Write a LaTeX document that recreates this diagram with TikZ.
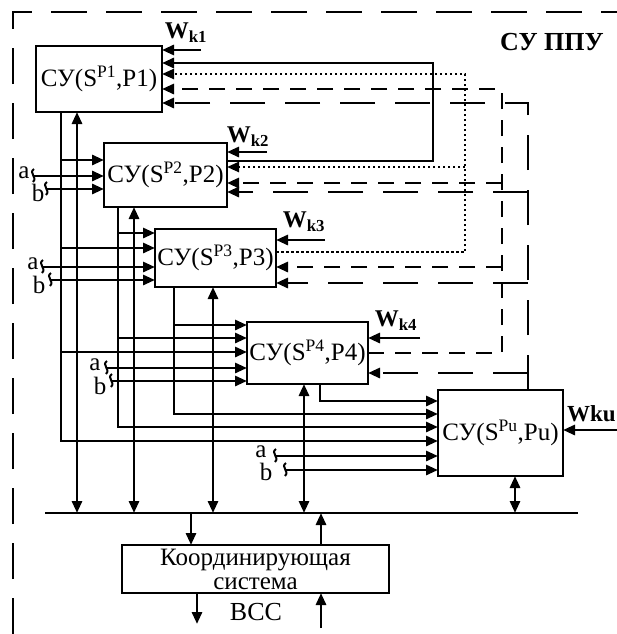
\documentclass[tikz,border=0pt]{standalone}
\usepackage{fontspec}
\setmainfont{Liberation Serif}
\usetikzlibrary{arrows.meta}
\begin{document}
\begin{tikzpicture}[x=1pt,y=-1pt,
  ln/.style={line width=2.8pt},
  arr/.style={ln,-{Triangle[length=12pt,width=10pt]}},
  darr/.style={ln,{Triangle[length=12pt,width=10pt]}-{Triangle[length=12pt,width=10pt]}},
  box/.style={draw,line width=2.8pt,inner sep=0pt,outer sep=0pt,align=center,font=\fontsize{25}{22}\selectfont},
  sdash/.style={dash pattern=on 16pt off 11pt},
  ldash/.style={dash pattern=on 35pt off 20pt},
  dotl/.style={line width=2.5pt,dash pattern=on 2.5pt off 2.5pt},
  lbl/.style={inner sep=0pt,font=\fontsize{25}{25}\selectfont},
  wlbl/.style={inner sep=0pt,font=\fontsize{24}{24}\selectfont\bfseries},
  sq/.style={line width=2pt},
  border/.style={line width=2.2pt,dash pattern=on 36pt off 19pt}
]
\useasboundingbox (0,0) rectangle (617,634);
\newcommand{\sqig}[1]{\draw[sq,shift={(#1)}] (1,-7) .. controls (-5,-3) and (5,1) .. (0,6);}

% outer dashed frame
\coordinate (fr1) at (13,634);
\coordinate (fr2) at (13,12);
\coordinate (fr3) at (617,12);
\draw[border] (fr1) -- (fr2) -- (fr3);
\node[inner sep=0pt,font=\fontsize{26}{26}\selectfont\bfseries] (title) at (552,42) {СУ ППУ};

% boxes
\node[box,minimum width=126pt,minimum height=66pt] (b1) at (99,79) {СУ(S\textsuperscript{P1},P1)};
\node[box,minimum width=123pt,minimum height=64pt] (b2) at (165.5,175) {СУ(S\textsuperscript{P2},P2)};
\node[box,minimum width=121pt,minimum height=58pt] (b3) at (215.5,258) {СУ(S\textsuperscript{P3},P3)};
\node[box,minimum width=121pt,minimum height=62pt] (b4) at (307.5,353) {СУ(S\textsuperscript{P4},P4)};
\node[box,minimum width=125pt,minimum height=86pt] (bu) at (500.5,433) {СУ(S\textsuperscript{Pu},Pu)};
\node[box,minimum width=267pt,minimum height=48pt,font=\fontsize{25}{24}\selectfont] (kc) at (255.5,569) {Координирующая\\система};

% bus
\coordinate (busL) at (45,513);
\coordinate (busR) at (578,513);
\draw[ln] (busL) -- (busR);

% W inputs
\node[wlbl] (lw1) at (186,33) {W\textsubscript{k1}};
\node[wlbl] (lw2) at (248,137) {W\textsubscript{k2}};
\node[wlbl] (lw3) at (304,222) {W\textsubscript{k3}};
\node[wlbl] (lw4) at (396,321) {W\textsubscript{k4}};
\node[inner sep=0pt,anchor=west,font=\fontsize{23}{23}\selectfont\bfseries] (lwu) at (567,414) {Wku};
\coordinate (w1) at (201,50);
\coordinate (w2) at (267,152);
\coordinate (w3) at (325,240);
\coordinate (w4) at (420,338);
\coordinate (wu) at (617,430);
\draw[arr] (w1) -- (b1.east |- w1);
\draw[arr] (w2) -- (b2.east |- w2);
\draw[arr] (w3) -- (b3.east |- w3);
\draw[arr] (w4) -- (b4.east |- w4);
\draw[arr] (wu) -- (bu.east |- wu);

% outputs of boxes going down and to the right
\draw[arr] (b1.south -| 61,0) -- (61,441) -- (bu.west |- 0,441);
\draw[arr] (61,160) -- (b2.west |- 0,160);
\draw[arr] (61,248) -- (b3.west |- 0,248);
\draw[arr] (61,352) -- (b4.west |- 0,352);

\draw[arr] (b2.south -| 118,0) -- (118,427) -- (bu.west |- 0,427);
\draw[arr] (118,233) -- (b3.west |- 0,233);
\draw[arr] (118,338) -- (b4.west |- 0,338);

\draw[arr] (b3.south -| 174,0) -- (174,414) -- (bu.west |- 0,414);
\draw[arr] (174,325) -- (b4.west |- 0,325);

\draw[arr] (b4.south -| 320,0) -- (320,401) -- (bu.west |- 0,401);

% box <-> bus
\draw[darr] (b1.south -| 77,0) -- (77,0 |- busL);
\draw[darr] (b2.south -| 134,0) -- (134,0 |- busL);
\draw[darr] (b3.south -| 213,0) -- (213,0 |- busL);
\draw[darr] (b4.south -| 304,0) -- (304,0 |- busL);
\draw[darr] (bu.south -| 515,0) -- (515,0 |- busL);

% a, b inputs
\node[lbl] (a2) at (24,173) {a};
\node[lbl] (bb2) at (38,193) {b};
\coordinate (sa2) at (33,176); \coordinate (sb2) at (46,189);
\sqig{sa2} \sqig{sb2}
\draw[arr] (sa2) -- (b2.west |- sa2);
\draw[arr] (sb2) -- (b2.west |- sb2);

\node[lbl] (a3) at (33,264) {a};
\node[lbl] (bb3) at (39,285) {b};
\coordinate (sa3) at (42,267); \coordinate (sb3) at (50,280);
\sqig{sa3} \sqig{sb3}
\draw[arr] (sa3) -- (b3.west |- sa3);
\draw[arr] (sb3) -- (b3.west |- sb3);

\node[lbl] (a4) at (95,365) {a};
\node[lbl] (bb4) at (100,386) {b};
\coordinate (sa4) at (106,368); \coordinate (sb4) at (111,381);
\sqig{sa4} \sqig{sb4}
\draw[arr] (sa4) -- (b4.west |- sa4);
\draw[arr] (sb4) -- (b4.west |- sb4);

\node[lbl] (au) at (261,452) {a};
\node[lbl] (bbu) at (266,472) {b};
\coordinate (sau) at (275,456); \coordinate (sbu) at (285,470);
\sqig{sau} \sqig{sbu}
\draw[arr] (sau) -- (bu.west |- sau);
\draw[arr] (sbu) -- (bu.west |- sbu);

% feedback loops on the right
\draw[arr] (b2.east |- 0,161) -- (433,161) -- (433,63) -- (b1.east |- 0,63);

\draw[arr,dotl] (b3.east |- 0,252) -- (465,252) -- (465,74) -- (b1.east |- 0,74);
\draw[arr,dotl] (465,167) -- (b2.east |- 0,167);

\draw[arr,sdash] (b4.east |- 0,353) -- (502,353) -- (502,89) -- (b1.east |- 0,89);
\draw[arr,sdash] (502,183) -- (b2.east |- 0,183);
\draw[arr,sdash] (502,267) -- (b3.east |- 0,267);

\draw[arr,ldash] (bu.north -| 528,0) -- (528,103) -- (b1.east |- 0,103);
\draw[arr,ldash] (528,192) -- (b2.east |- 0,192);
\draw[arr,ldash] (528,283) -- (b3.east |- 0,283);
\draw[arr,ldash] (528,373) -- (b4.east |- 0,373);

% coordinating system links
\draw[arr] (191,0 |- busL) -- (191,0 |- kc.north);
\draw[arr] (321,0 |- kc.north) -- (321,0 |- busL);
\coordinate (vss) at (197,624);
\coordinate (vin) at (321,628);
\draw[arr] (kc.south -| vss) -- (vss);
\draw[arr] (vin) -- (kc.south -| vin);
\node[inner sep=0pt,font=\fontsize{26}{26}\selectfont] (lvss) at (256,612) {ВСС};
\end{tikzpicture}
\end{document}
